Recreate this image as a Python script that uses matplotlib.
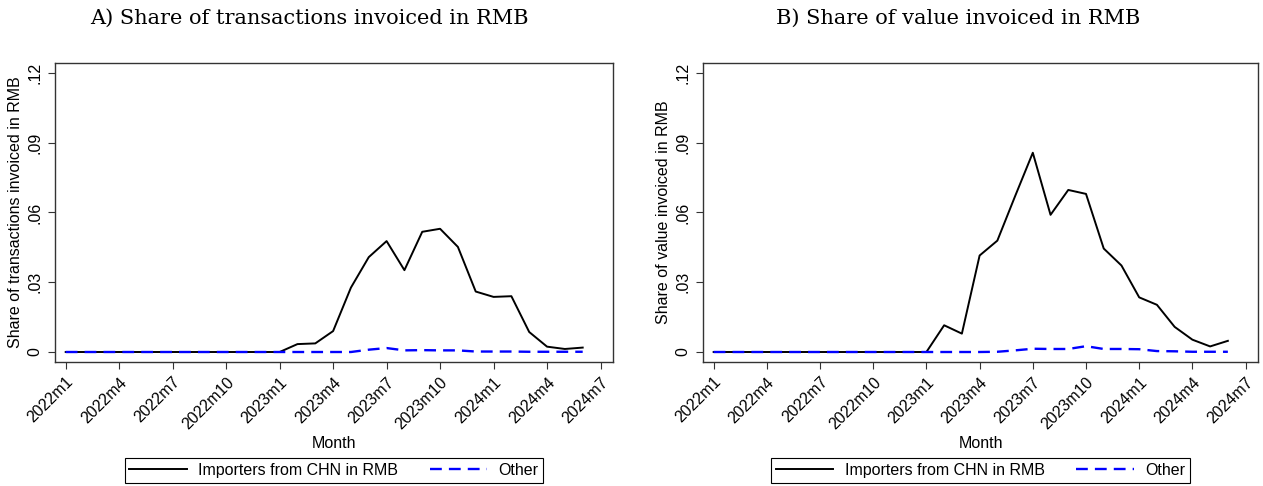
import matplotlib
matplotlib.use("Agg")
from matplotlib import pyplot as plt

plt.rcParams["font.family"] = ["Liberation Sans", "DejaVu Sans"]

# month labels, 2022m1 .. 2024m6
months = ["2022m1", "2022m2", "2022m3", "2022m4", "2022m5", "2022m6",
          "2022m7", "2022m8", "2022m9", "2022m10", "2022m11", "2022m12",
          "2023m1", "2023m2", "2023m3", "2023m4", "2023m5", "2023m6",
          "2023m7", "2023m8", "2023m9", "2023m10", "2023m11", "2023m12",
          "2024m1", "2024m2", "2024m3", "2024m4", "2024m5", "2024m6"]
tick_labels = ["2022m1", "2022m4", "2022m7", "2022m10", "2023m1", "2023m4",
               "2023m7", "2023m10", "2024m1", "2024m4", "2024m7"]

# panel A: share of transactions invoiced in RMB
trans_chn = [0, 0, 0, 0, 0, 0, 0, 0, 0, 0, 0, 0,
             0, 0.0034, 0.0037, 0.0090, 0.0277, 0.0408,
             0.0477, 0.0352, 0.0517, 0.0530, 0.0452, 0.0260,
             0.0237, 0.0240, 0.0086, 0.0023, 0.0013, 0.0019]
trans_other = [0, 0, 0, 0, 0, 0, 0, 0, 0, 0, 0, 0,
               0, 0, 0, 0, 0, 0.0010,
               0.0017, 0.0007, 0.0008, 0.0007, 0.0007, 0.0002,
               0.0002, 0.0002, 0.0001, 0.0001, 0.0001, 0.0001]

# panel B: share of value invoiced in RMB
value_chn = [0, 0, 0, 0, 0, 0, 0, 0, 0, 0, 0, 0,
             0, 0.0115, 0.0079, 0.0415, 0.0479, 0.0670,
             0.0857, 0.0590, 0.0697, 0.0680, 0.0445, 0.0372,
             0.0235, 0.0203, 0.0108, 0.0053, 0.0024, 0.0048]
value_other = [0, 0, 0, 0, 0, 0, 0, 0, 0, 0, 0, 0,
               0, 0, 0, 0, 0.0001, 0.0007,
               0.0014, 0.0013, 0.0013, 0.0025, 0.0013, 0.0013,
               0.0012, 0.0004, 0.0003, 0.0001, 0.0001, 0.0001]

W, H = 1263, 486
fs = 11.5
fig = plt.figure(figsize=(W / 100, H / 100), dpi=100)


def panel(left, right, title, title_x, ylabel, chn, other):
    ax = fig.add_axes([left / W, 1 - 362 / H, (right - left) / W, (362 - 63) / H])
    x = list(range(len(months)))
    ax.plot(x, chn, color="black", lw=1.4, label="Importers from CHN in RMB")
    ax.plot(x, other, color="#0000ff", lw=1.7, ls=(0, (5, 3)), label="Other")
    ax.set_xlim(-0.6, 30.7)
    ax.set_ylim(-0.0043, 0.1243)
    ax.set_xticks(range(0, 31, 3))
    ax.set_xticklabels(tick_labels, rotation=45, ha="right", rotation_mode="anchor",
                       fontsize=fs)
    ax.set_yticks([0, 0.03, 0.06, 0.09, 0.12])
    ax.set_yticklabels(["0", ".03", ".06", ".09", ".12"], rotation=90,
                       va="center", fontsize=fs)
    ax.tick_params(length=5, width=0.8, color="#333333", pad=4)
    ax.set_xlabel("Month", fontsize=fs, labelpad=3)
    ax.set_ylabel(ylabel, fontsize=fs, labelpad=3)
    for s in ax.spines.values():
        s.set_color("#333333")
        s.set_linewidth(1.0)
    leg = ax.legend(loc="upper center", bbox_to_anchor=(0.5, -(450 - 362) / 299),
                    ncol=2, fancybox=False, edgecolor="black", framealpha=1,
                    handlelength=3.6, columnspacing=2.0, borderpad=0.3,
                    handletextpad=0.7, fontsize=fs)
    leg.get_frame().set_linewidth(0.8)
    fig.text(title_x / W, 1 - 18 / H, title, ha="center", va="center",
             family="DejaVu Serif", fontsize=15)
    return ax


panel(55, 613, "A) Share of transactions invoiced in RMB", 309,
      "Share of transactions invoiced in RMB", trans_chn, trans_other)
panel(703, 1258, "B) Share of value invoiced in RMB", 958,
      "Share of value invoiced in RMB", value_chn, value_other)

fig.savefig("out.png", dpi=100)
